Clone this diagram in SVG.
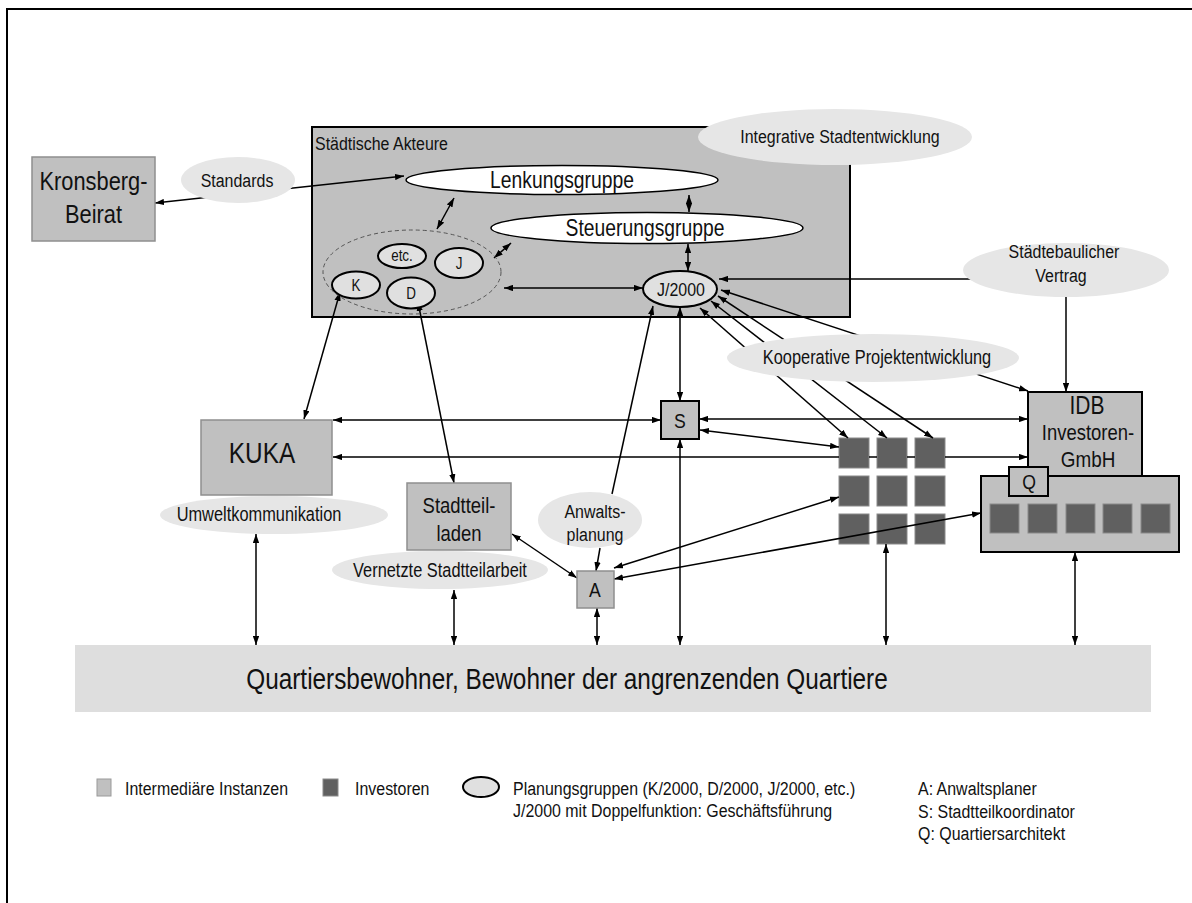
<svg xmlns="http://www.w3.org/2000/svg" width="1192" height="903" viewBox="0 0 1192 903">
<defs>
<marker id="ah" viewBox="0 0 10 7" refX="10" refY="3.5" markerWidth="9" markerHeight="6.5" markerUnits="userSpaceOnUse" orient="auto-start-reverse">
<path d="M0,0 L10,3.5 L0,7 z" fill="#000"/>
</marker>
<style>
.t{font-family:"Liberation Sans",Arial,sans-serif;fill:#111}
.m{text-anchor:middle}
.box{fill:#c0c0c0;stroke:#000;stroke-width:2}
.ibox{fill:#c0c0c0;stroke:#8f8f8f;stroke-width:1.5}
.lab{fill:#e6e6e6;stroke:none}
.inv{fill:#606060;stroke:#8a8a8a;stroke-width:1}
.pg{fill:#e0e0e0;stroke:#000;stroke-width:2}
.wg{fill:#fff;stroke:#000;stroke-width:1.5}
.c line,.c path{stroke:#000;stroke-width:1.5;fill:none}
.b{marker-start:url(#ah);marker-end:url(#ah)}
.e{marker-end:url(#ah)}
</style>
</defs>
<rect x="7" y="9" width="1200" height="900" fill="#fff" stroke="#000" stroke-width="2"/>

<g id="staedtische-akteure">
<rect x="312" y="127" width="538" height="190" class="box"/>
<text class="t" font-size="19" transform="translate(315,150) scale(0.84,1)">Städtische Akteure</text>
</g>

<g id="investoren-grid">
<rect x="839" y="438" width="30" height="30" class="inv"/>
<rect x="877" y="438" width="30" height="30" class="inv"/>
<rect x="915" y="438" width="30" height="30" class="inv"/>
<rect x="839" y="476" width="30" height="30" class="inv"/>
<rect x="877" y="476" width="30" height="30" class="inv"/>
<rect x="915" y="476" width="30" height="30" class="inv"/>
<rect x="839" y="514" width="30" height="30" class="inv"/>
<rect x="877" y="514" width="30" height="30" class="inv"/>
<rect x="915" y="514" width="30" height="30" class="inv"/>
</g>

<g id="connectors" class="c">
<line x1="155" y1="203" x2="404" y2="176" class="b"/>
<line x1="689" y1="195" x2="689" y2="212" class="b"/>
<line x1="437" y1="229" x2="454" y2="198" class="b"/>
<line x1="494" y1="258" x2="511" y2="243" class="b"/>
<line x1="688" y1="244" x2="688" y2="271" class="b"/>
<line x1="504" y1="288" x2="643" y2="288" class="b"/>
<line x1="973" y1="279" x2="719" y2="279" class="e"/>
<line x1="680" y1="307" x2="680" y2="401" class="b"/>
<line x1="612" y1="494" x2="653" y2="306" class="e"/>
<line x1="700" y1="308" x2="848" y2="438" class="b"/>
<line x1="711" y1="301" x2="887" y2="438" class="b"/>
<line x1="718" y1="296" x2="933" y2="438" class="b"/>
<line x1="721" y1="290" x2="1028" y2="391" class="b"/>
<line x1="1066" y1="297" x2="1066" y2="392" class="e"/>
<line x1="333" y1="420" x2="661" y2="420" class="b"/>
<line x1="699" y1="419" x2="1028" y2="419" class="b"/>
<line x1="700" y1="430" x2="839" y2="447" class="b"/>
<path d="M333,457 H839 M869,457 H877 M907,457 H915 M945,457 H1028" class="b"/>
<line x1="340" y1="292" x2="304" y2="419" class="b"/>
<line x1="418" y1="302" x2="454" y2="483" class="b"/>
<line x1="512" y1="534" x2="577" y2="578" class="b"/>
<line x1="600" y1="548" x2="596" y2="571" class="e"/>
<line x1="614" y1="568" x2="839" y2="497" class="b"/>
<line x1="614" y1="579" x2="981" y2="513" class="b"/>
<line x1="256" y1="534" x2="256" y2="645" class="b"/>
<line x1="454" y1="590" x2="454" y2="645" class="b"/>
<line x1="597" y1="608" x2="597" y2="645" class="b"/>
<line x1="680" y1="439" x2="680" y2="645" class="b"/>
<line x1="886" y1="544" x2="886" y2="645" class="b"/>
<line x1="1075" y1="552" x2="1075" y2="645" class="b"/>
</g>

<g id="kronsberg-beirat">
<rect x="32" y="157" width="123" height="84" class="ibox"/>
<text class="t m" font-size="26" transform="translate(93.5,190) scale(0.84,1)">Kronsberg-</text>
<text class="t m" font-size="26" transform="translate(93.5,223) scale(0.84,1)">Beirat</text>
</g>

<g id="standards">
<ellipse cx="238" cy="180" rx="57" ry="23" class="lab"/>
<text class="t m" font-size="19" transform="translate(237,187) scale(0.84,1)">Standards</text>
</g>

<g id="integrative-stadtentwicklung">
<ellipse cx="835" cy="137" rx="137" ry="28" class="lab"/>
<text class="t m" font-size="19" transform="translate(840,143) scale(0.84,1)">Integrative Stadtentwicklung</text>
</g>

<g id="lenkungsgruppe">
<ellipse cx="562" cy="180" rx="156" ry="14.5" class="wg"/>
<text class="t m" font-size="23" transform="translate(562,188) scale(0.84,1)">Lenkungsgruppe</text>
</g>

<g id="steuerungsgruppe">
<ellipse cx="647" cy="228" rx="156" ry="15.5" class="wg"/>
<text class="t m" font-size="23" transform="translate(645,236) scale(0.84,1)">Steuerungsgruppe</text>
</g>

<g id="planungsgruppen">
<ellipse cx="412" cy="272" rx="89" ry="42" fill="none" stroke="#555" stroke-width="1" stroke-dasharray="4,3"/>
<ellipse cx="402" cy="256" rx="24" ry="12" class="pg"/>
<text class="t m" font-size="16" transform="translate(402,261) scale(0.84,1)">etc.</text>
<ellipse cx="459" cy="263" rx="24" ry="15" class="pg"/>
<text class="t m" font-size="16" transform="translate(459,269) scale(0.84,1)">J</text>
<ellipse cx="356" cy="285" rx="24" ry="13.5" class="pg"/>
<text class="t m" font-size="16" transform="translate(356,291) scale(0.84,1)">K</text>
<ellipse cx="411" cy="293" rx="24" ry="15.5" class="pg"/>
<text class="t m" font-size="16" transform="translate(411,299) scale(0.84,1)">D</text>
</g>

<g id="j2000">
<ellipse cx="680" cy="289" rx="37" ry="18" class="pg"/>
<text class="t m" font-size="19" transform="translate(681,296) scale(0.84,1)">J/2000</text>
</g>

<g id="staedtebaulicher-vertrag">
<ellipse cx="1066" cy="270" rx="103" ry="27" class="lab"/>
<text class="t m" font-size="19" transform="translate(1064,258) scale(0.84,1)">Städtebaulicher</text>
<text class="t m" font-size="19" transform="translate(1061,282) scale(0.84,1)">Vertrag</text>
</g>

<g id="kooperative-projektentwicklung">
<ellipse cx="873" cy="358" rx="146" ry="24" class="lab"/>
<text class="t m" font-size="19.5" transform="translate(877,364) scale(0.84,1)">Kooperative Projektentwicklung</text>
</g>

<g id="s">
<rect x="661" y="401" width="38" height="38" class="box"/>
<text class="t m" font-size="21" transform="translate(680,428) scale(0.84,1)">S</text>
</g>

<g id="kuka">
<rect x="201" y="420" width="131" height="75" class="ibox"/>
<text class="t m" font-size="29" transform="translate(262,463) scale(0.84,1)">KUKA</text>
</g>

<g id="umweltkommunikation">
<ellipse cx="274" cy="515" rx="114" ry="19" class="lab"/>
<text class="t m" font-size="19.5" transform="translate(259,521) scale(0.84,1)">Umweltkommunikation</text>
</g>

<g id="stadtteilladen">
<rect x="407" y="483" width="104" height="67" class="ibox"/>
<text class="t m" font-size="22" transform="translate(459,513) scale(0.84,1)">Stadtteil-</text>
<text class="t m" font-size="22" transform="translate(459,541) scale(0.84,1)">laden</text>
</g>

<g id="vernetzte-stadtteilarbeit">
<ellipse cx="440" cy="570" rx="108" ry="19" class="lab"/>
<text class="t m" font-size="19.5" transform="translate(440,577) scale(0.84,1)">Vernetzte Stadtteilarbeit</text>
</g>

<g id="anwaltsplanung">
<ellipse cx="590" cy="520" rx="52" ry="28" class="lab"/>
<text class="t m" font-size="19" transform="translate(595,518) scale(0.84,1)">Anwalts-</text>
<text class="t m" font-size="19" transform="translate(595,541) scale(0.84,1)">planung</text>
</g>

<g id="a">
<rect x="577" y="571" width="37" height="37" class="ibox"/>
<text class="t m" font-size="21" transform="translate(595,597) scale(0.84,1)">A</text>
</g>

<g id="idb">
<rect x="1028" y="392" width="114" height="84" class="box"/>
<text class="t m" font-size="25" transform="translate(1087,414) scale(0.84,1)">IDB</text>
<text class="t m" font-size="22" transform="translate(1088,440) scale(0.84,1)">Investoren-</text>
<text class="t m" font-size="22.5" transform="translate(1088,467) scale(0.84,1)">GmbH</text>
</g>

<g id="idb-investoren">
<rect x="981" y="476" width="198" height="76" class="box"/>
<rect x="990" y="504" width="29" height="29" class="inv"/>
<rect x="1028" y="504" width="29" height="29" class="inv"/>
<rect x="1066" y="504" width="29" height="29" class="inv"/>
<rect x="1103" y="504" width="29" height="29" class="inv"/>
<rect x="1141" y="504" width="29" height="29" class="inv"/>
</g>

<g id="q">
<rect x="1009" y="467" width="39" height="29" class="box"/>
<text class="t m" font-size="21" transform="translate(1029,489) scale(0.84,1)">Q</text>
</g>

<g id="quartiersbewohner">
<rect x="75" y="645" width="1076" height="67" fill="#dedede"/>
<text class="t m" font-size="29" transform="translate(567,689) scale(0.84,1)">Quartiersbewohner, Bewohner der angrenzenden Quartiere</text>
</g>

<g id="legend">
<rect x="97" y="779" width="14" height="17" fill="#c0c0c0" stroke="#9a9a9a" stroke-width="1"/>
<text class="t" font-size="19" transform="translate(125,795) scale(0.84,1)">Intermediäre Instanzen</text>
<rect x="323" y="779" width="15" height="17" fill="#606060" stroke="#8a8a8a" stroke-width="1"/>
<text class="t" font-size="19" transform="translate(355,795) scale(0.84,1)">Investoren</text>
<ellipse cx="481" cy="787" rx="18" ry="10" class="pg"/>
<text class="t" font-size="19" transform="translate(513,795) scale(0.84,1)">Planungsgruppen (K/2000, D/2000, J/2000, etc.)</text>
<text class="t" font-size="19" transform="translate(513,817) scale(0.84,1)">J/2000 mit Doppelfunktion: Geschäftsführung</text>
<text class="t" font-size="19" transform="translate(918,795) scale(0.84,1)">A: Anwaltsplaner</text>
<text class="t" font-size="19" transform="translate(918,818) scale(0.84,1)">S: Stadtteilkoordinator</text>
<text class="t" font-size="19" transform="translate(918,840) scale(0.84,1)">Q: Quartiersarchitekt</text>
</g>
</svg>
